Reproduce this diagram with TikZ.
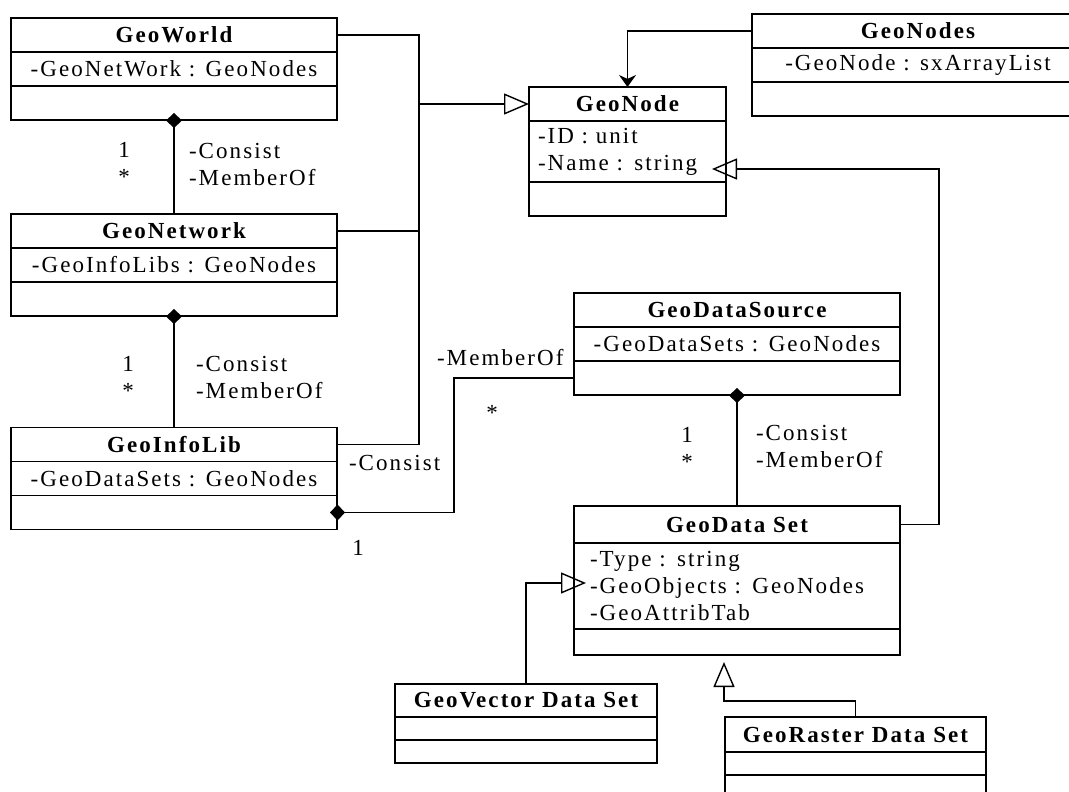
\documentclass[tikz,border=0pt]{standalone}
\usepackage{fontspec}
\setmainfont{Liberation Serif}[LetterSpace=9]
\usetikzlibrary{positioning,arrows.meta}

\begin{document}
\begin{tikzpicture}[x=1pt,y=-1pt,line width=1.4pt,
    font=\fontsize{23}{27}\selectfont,
    part/.style={draw,inner sep=0pt,outer sep=0pt,minimum width=#1},
    head/.style={part=#1,minimum height=34pt,font=\fontsize{23}{27}\selectfont\bfseries},
    attr/.style={part=#1,minimum height=34pt},
    ops/.style={part=#1,minimum height=34pt},
    gen/.style={-{Triangle[open,length=25pt,width=21pt]}},
    comp/.style={-{Diamond[length=15pt,width=16pt]},shorten >=-7pt},
    dep/.style={-{Stealth[length=12pt,width=17pt]}},
    lbl/.style={anchor=west,align=left},
    mult/.style={align=center}]

\path[use as bounding box,clip] (0,0) rectangle (1069,792);

% left column
\node[head=326pt] (world) at (174,35) {GeoWorld};
\node[attr=326pt,below=0pt of world] (world-a) {-GeoNetWork : GeoNodes};
\node[ops=326pt,below=0pt of world-a] (world-o) {};

\node[head=326pt] (net) at (174,231) {GeoNetwork};
\node[attr=326pt,below=0pt of net] (net-a) {-GeoInfoLibs : GeoNodes};
\node[ops=326pt,below=0pt of net-a] (net-o) {};

\node[head=326pt] (lib) at (174,444.5) {GeoInfoLib};
\node[attr=326pt,below=0pt of lib] (lib-a) {-GeoDataSets : GeoNodes};
\node[ops=326pt,below=0pt of lib-a] (lib-o) {};

% top right
\node[head=197pt] (node) at (627.5,104) {GeoNode};
\node[attr=197pt,minimum height=61pt,text width=179pt,inner xsep=9pt,
      below=0pt of node] (node-a) {-ID : unit\\-Name : string};
\node[ops=197pt,below=0pt of node-a] (node-o) {};

\node[head=332pt] (nodes) at (918,31) {GeoNodes};
\node[attr=332pt,below=0pt of nodes] (nodes-a) {-GeoNode : sxArrayList};
\node[ops=332pt,below=0pt of nodes-a] (nodes-o) {};

% data sets
\node[head=326pt] (src) at (737,310) {GeoDataSource};
\node[attr=326pt,below=0pt of src] (src-a) {-GeoDataSets : GeoNodes};
\node[ops=326pt,below=0pt of src-a] (src-o) {};

\node[head=326pt,minimum height=37pt] (set) at (737,524.5) {GeoData Set};
\node[attr=326pt,minimum height=86pt,text width=294pt,inner xsep=16pt,
      below=0pt of set] (set-a) {-Type : string\\-GeoObjects : GeoNodes\\-GeoAttribTab};
\node[ops=326pt,minimum height=26pt,below=0pt of set-a] (set-o) {};

\node[head=262pt,minimum height=33pt] (vec) at (526,700.5) {GeoVector Data Set};
\node[attr=262pt,minimum height=23pt,below=0pt of vec] (vec-a) {};
\node[ops=262pt,minimum height=23pt,below=0pt of vec-a] (vec-o) {};

\node[head=261pt,minimum height=35pt] (ras) at (855.5,734.5) {GeoRaster Data Set};
\node[attr=261pt,minimum height=23pt,below=0pt of ras] (ras-a) {};
\node[ops=261pt,minimum height=23pt,below=0pt of ras-a] (ras-o) {};

% role names and multiplicities
\node[mult] (m1) at (124,163) {1\\*};
\node[lbl] (r1) at (185,164) {-Consist\\-MemberOf};
\node[mult] (m2) at (128,377) {1\\*};
\node[lbl] (r2) at (192,377) {-Consist\\-MemberOf};
\node[mult] (m3) at (687,448) {1\\*};
\node[lbl] (r3) at (752,446) {-Consist\\-MemberOf};
\node[lbl] (r4) at (433,358) {-MemberOf};
\node (m4) at (492,413) {*};
\node[lbl] (r5) at (345,463) {-Consist};
\node (m5) at (358,548) {1};

% connectors
\coordinate (jn) at (419,104);
\draw (world.east) -| (jn) |- (lib.east);
\draw (net.east) -| (jn);
\draw[gen] (jn) -- (node.west);
\draw[dep] (nodes.west) -| (node.north);
\coordinate (ntip) at (712,169);
\draw[gen] (set.east) -- ++(39,0) |- (ntip);

\draw[comp] (net.north) -- (world-o.south);
\draw[comp] (lib.north) -- (net-o.south);
\draw[comp] (set.north) -- (src-o.south);
\draw[comp] (src-o.west) -- ++(-120,0) |- (lib-o.east);

\coordinate (vtip) at (586,583);
\draw[gen] (vec.north) |- (vtip);
\coordinate (rtip) at (724,662);
\draw[gen] (ras.north) -- ++(0,-16) -| (rtip);

\end{tikzpicture}
\end{document}
